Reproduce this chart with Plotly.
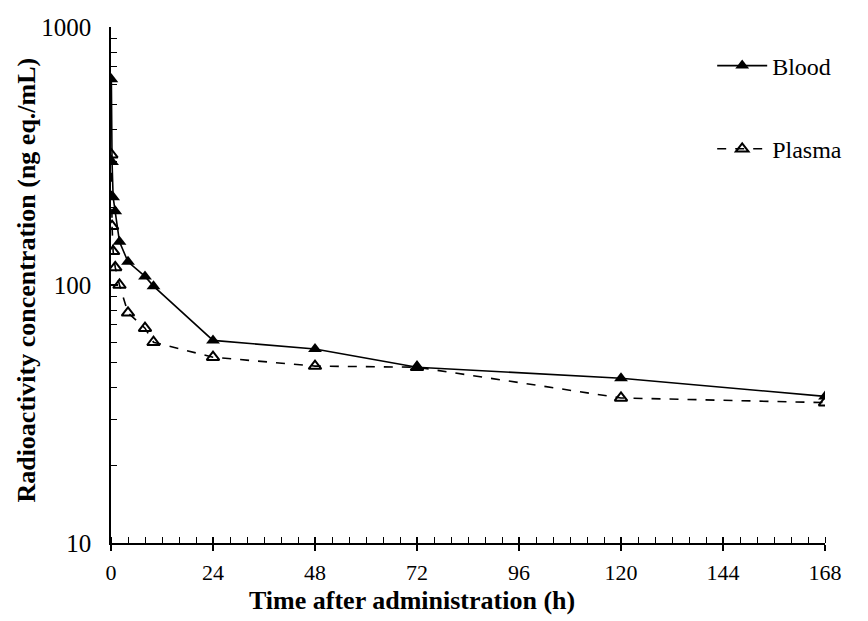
import plotly.graph_objects as go

time_h = [0.083, 0.25, 0.5, 1, 2, 4, 8, 10, 24, 48, 72, 120, 168]
blood = [628, 300, 219, 193, 147, 123, 108, 99, 61, 56.5, 48, 43.5, 37]
plasma = [320, 169, 135, 117, 100, 78, 68, 60, 52.5, 48.5, 48, 36.5, 35]

x_ticks = [0, 24, 48, 72, 96, 120, 144, 168]
y_ticks = [10, 100, 1000]
y_minor = [v * m for v in (10, 100) for m in range(2, 10)]

FONT = "Liberation Serif"

fig = go.Figure()
fig.add_trace(go.Scatter(
    x=time_h, y=blood, name="Blood", mode="lines+markers", legendgroup="b",
    line=dict(color="black", width=1.6),
    marker=dict(symbol="triangle-up", size=12, color="black"),
))
fig.add_trace(go.Scatter(
    x=time_h, y=plasma, name="Plasma", mode="lines+markers", legendgroup="p",
    line=dict(color="black", width=1.6, dash="dash"),
    marker=dict(symbol="triangle-up-open", size=11, color="black", line=dict(width=2)),
))
fig.add_trace(go.Scatter(x=[None], y=[None], xaxis="x2", showlegend=False, hoverinfo="skip"))

# page body has an 8px margin: figure is sized 860x613 so it fills the 868x621 window
fig.update_layout(
    width=860, height=613,
    margin=dict(l=103, r=43, t=19, b=78, autoexpand=False),
    paper_bgcolor="white", plot_bgcolor="white",
    font=dict(family=FONT, color="black", size=22),
    showlegend=True,
    legend=dict(x=0.842, y=0.968, xanchor="left", yanchor="top",
                traceorder="grouped", tracegroupgap=49, itemwidth=50,
                font=dict(size=24, family=FONT, color="black"), bgcolor="rgba(0,0,0,0)"),
    xaxis=dict(
        range=[0, 168], tickvals=x_ticks, ticktext=[str(v) for v in x_ticks],
        showline=True, linecolor="black", linewidth=1.5,
        ticks="outside", ticklen=6, tickwidth=1.5, tickcolor="black",
        minor=dict(dtick=4, tick0=0, ticks="inside", ticklen=6, tickwidth=1.2, tickcolor="black", showgrid=False),
        showgrid=False, zeroline=False, automargin=False,
        tickfont=dict(size=22, family=FONT, color="black"), ticklabelstandoff=3,
    ),
    xaxis2=dict(
        range=[0, 168], overlaying="x", anchor="y", side="bottom",
        tickvals=x_ticks, showticklabels=False, ticks="inside", ticklen=6, tickwidth=1.5,
        tickcolor="black", showline=False, showgrid=False, zeroline=False, automargin=False,
    ),
    yaxis=dict(
        type="log", range=[1, 3], tickvals=y_ticks, ticktext=[str(v) for v in y_ticks],
        showline=True, linecolor="black", linewidth=1.5,
        ticks="inside", ticklen=7, tickwidth=1.5, tickcolor="black",
        minor=dict(tickvals=y_minor, ticks="inside", ticklen=6, tickwidth=1.2, tickcolor="black", showgrid=False),
        showgrid=False, zeroline=False, automargin=False,
        tickfont=dict(size=25, family=FONT, color="black"), ticklabelstandoff=13,
    ),
    annotations=[
        dict(text="<b>Time after administration (h)</b>", xref="paper", yref="paper",
             x=0.4216, y=-0.1105, xanchor="center", yanchor="middle", showarrow=False,
             font=dict(size=26, family=FONT, color="black")),
        dict(text="<b>Radioactivity concentration (ng eq./mL)</b>", xref="paper", yref="paper",
             x=-0.118, y=0.51, xanchor="center", yanchor="middle", showarrow=False, textangle=-90,
             font=dict(size=26, family=FONT, color="black")),
    ],
)

fig.write_html("out.html")
